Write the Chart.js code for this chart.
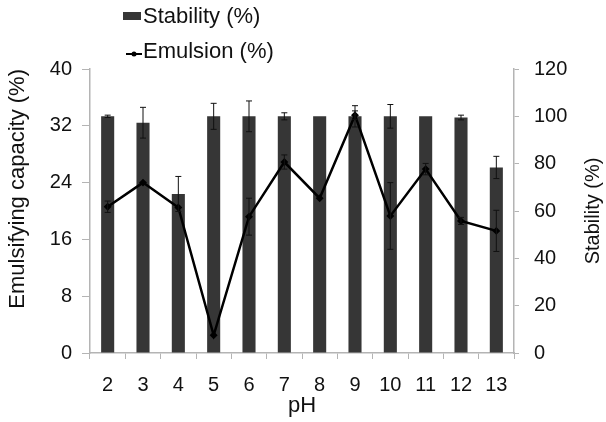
<!DOCTYPE html>
<html lang="en">
<head>
<meta charset="UTF-8" />
<title>Emulsifying capacity and stability vs pH</title>
<style>
  body { margin: 0; background: #fff; }
  #wrap { width: 606px; height: 422px; }
</style>
<script src="https://cdn.jsdelivr.net/npm/chart.js"></script>
</head>
<body>
<div id="wrap"><canvas id="phChart" width="606" height="422"></canvas></div>
<script>
  // values
  const phLabels = ["2", "3", "4", "5", "6", "7", "8", "9", "10", "11", "12", "13"];
  const stability = [100, 97.3, 67.2, 100, 100, 100, 100, 100, 100, 100, 99.5, 78.4];
  const stabilityErr = [0.5, 6.5, 7.4, 5.5, 6.5, 1.5, 0, 4.5, 5, 0, 1, 4.7];
  const emulsion = [20.6, 24.0, 20.5, 2.5, 19.2, 26.9, 21.8, 33.5, 19.3, 25.9, 18.6, 17.2];
  const emulsionErr = [0.8, 0, 0, 0, 2.6, 1.0, 0, 0.6, 4.7, 0.8, 0.5, 2.9];
  const leftAxis = { min: 0, max: 40, step: 8 };
  const rightAxis = { min: 0, max: 120, step: 20 };

  const FONT = "'Liberation Sans', Arial, sans-serif";
  const AXIS_GREY = "#b4b4b4";
  const TEXT = "#111";

  // simple error bars drawn through each dataset's own scale
  const errorBars = {
    id: "errorBars",
    afterDatasetsDraw(chart) {
      const ctx = chart.ctx;
      chart.data.datasets.forEach((ds, di) => {
        if (!ds.errors) return;
        const meta = chart.getDatasetMeta(di);
        const scale = chart.scales[ds.yAxisID];
        ctx.save();
        ctx.strokeStyle = "#111";
        ctx.lineWidth = 1;
        meta.data.forEach((el, i) => {
          const e = ds.errors[i];
          if (!e) return;
          const yTop = scale.getPixelForValue(ds.data[i] + e);
          const yBot = scale.getPixelForValue(ds.data[i] - e);
          ctx.beginPath();
          ctx.moveTo(el.x, yTop);
          ctx.lineTo(el.x, yBot);
          ctx.moveTo(el.x - 3, yTop);
          ctx.lineTo(el.x + 3, yTop);
          ctx.moveTo(el.x - 3, yBot);
          ctx.lineTo(el.x + 3, yBot);
          ctx.stroke();
        });
        ctx.restore();
      });
    },
  };

  // stacked legend in the top left, plus the right title read bottom-to-top
  const extras = {
    id: "extras",
    afterDraw(chart) {
      const ctx = chart.ctx;
      ctx.save();
      ctx.font = "22px " + FONT;
      ctx.textBaseline = "middle";
      ctx.textAlign = "left";

      ctx.fillStyle = "#363636";
      ctx.fillRect(123, 12, 18, 8);
      ctx.fillStyle = TEXT;
      ctx.fillText("Stability (%)", 143, 17);

      ctx.strokeStyle = "#000";
      ctx.lineWidth = 2;
      ctx.beginPath();
      ctx.moveTo(126, 54);
      ctx.lineTo(142, 54);
      ctx.stroke();
      ctx.beginPath();
      ctx.arc(134, 54, 2.5, 0, Math.PI * 2);
      ctx.fillStyle = "#000";
      ctx.fill();
      ctx.fillStyle = TEXT;
      ctx.fillText("Emulsion (%)", 143, 52);

      const area = chart.chartArea;
      ctx.font = "20px " + FONT;
      ctx.textAlign = "center";
      ctx.translate(593, (area.top + area.bottom) / 2);
      ctx.rotate(-Math.PI / 2);
      ctx.fillText("Stability (%)", 0, 0);
      ctx.restore();
    },
  };

  const ctx = document.getElementById("phChart").getContext("2d");
  const phChart = new Chart(ctx, {
    type: "bar",
    data: {
      labels: phLabels,
      datasets: [
        {
          type: "line",
          label: "Emulsion (%)",
          data: emulsion,
          errors: emulsionErr,
          yAxisID: "yLeft",
          borderColor: "#000",
          backgroundColor: "#000",
          borderWidth: 2.5,
          pointStyle: "rectRot",
          pointRadius: 2.2,
          tension: 0,
          order: 1,
        },
        {
          type: "bar",
          label: "Stability (%)",
          data: stability,
          errors: stabilityErr,
          yAxisID: "yRight",
          backgroundColor: "#363636",
          barPercentage: 0.37,
          categoryPercentage: 1,
          order: 2,
        },
      ],
    },
    options: {
      responsive: false,
      animation: false,
      layout: { padding: { top: 69, left: 0, right: 0, bottom: 0 } },
      plugins: {
        legend: { display: false },
        tooltip: { enabled: false },
      },
      scales: {
        x: {
          grid: {
            offset: true,
            drawOnChartArea: false,
            color: AXIS_GREY,
            tickLength: 6,
          },
          border: { color: AXIS_GREY, width: 1.5 },
          ticks: { color: TEXT, font: { family: FONT, size: 20 }, padding: 14 },
          title: {
            display: true,
            text: "pH",
            color: TEXT,
            font: { family: FONT, size: 22 },
            padding: { top: 3, bottom: 3 },
          },
          afterFit(scale) {
            scale.height = 69;
          },
        },
        yLeft: {
          position: "left",
          min: leftAxis.min,
          max: leftAxis.max,
          grid: { drawOnChartArea: false, color: AXIS_GREY, tickLength: 8 },
          border: { color: AXIS_GREY, width: 1.5 },
          ticks: {
            stepSize: leftAxis.step,
            color: TEXT,
            font: { family: FONT, size: 20 },
            padding: 10,
          },
          title: {
            display: true,
            text: "Emulsifying capacity (%)",
            align: "end",
            color: TEXT,
            font: { family: FONT, size: 22 },
            padding: { top: 5, bottom: 5 },
          },
          afterFit(scale) {
            scale.width = 90;
          },
        },
        yRight: {
          position: "right",
          min: rightAxis.min,
          max: rightAxis.max,
          grid: { drawOnChartArea: false, color: AXIS_GREY, tickLength: 5 },
          border: { color: AXIS_GREY, width: 1.5 },
          ticks: {
            stepSize: rightAxis.step,
            color: TEXT,
            font: { family: FONT, size: 20 },
            padding: 15,
          },
          afterFit(scale) {
            scale.width = 92;
          },
        },
      },
    },
    plugins: [errorBars, extras],
  });
</script>
</body>
</html>
